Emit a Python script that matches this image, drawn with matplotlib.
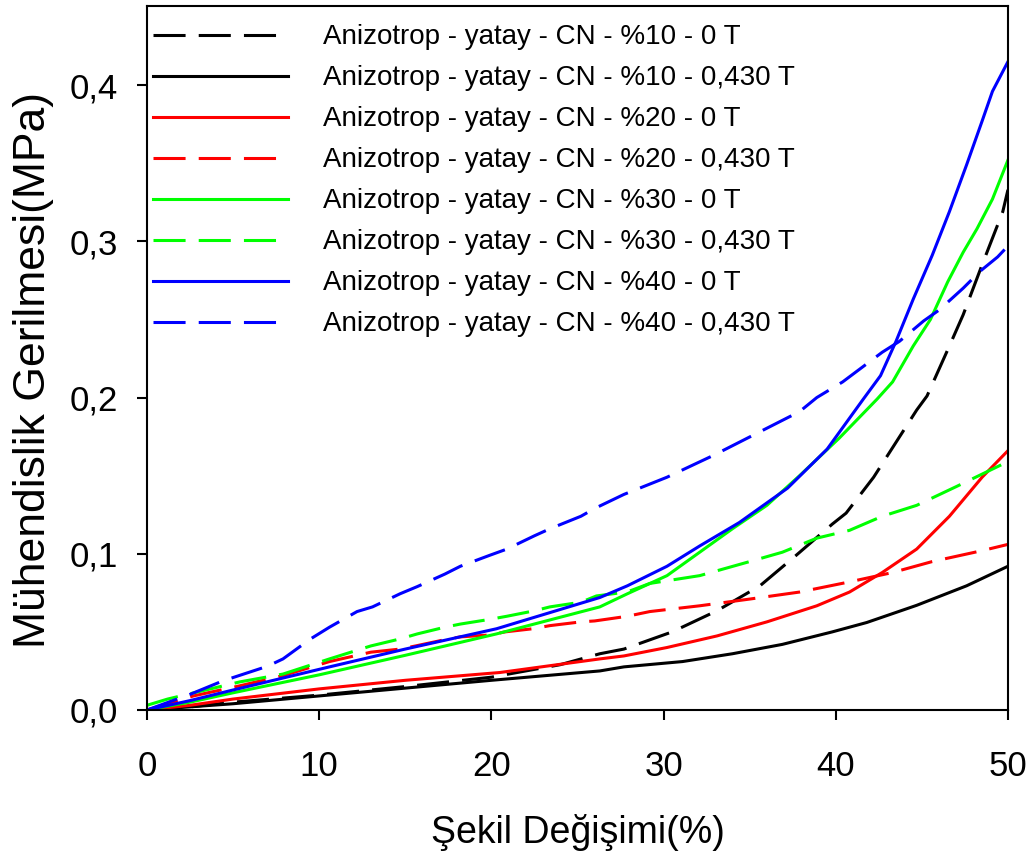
import numpy as np
import matplotlib
matplotlib.use("Agg")
import matplotlib.pyplot as plt
from matplotlib.ticker import FuncFormatter

plt.rcParams['font.family'] = ['Liberation Sans', 'DejaVu Sans']

# values (strain %, stress MPa)
x_10_0 = [0, 2.5, 5, 10, 15, 20, 24, 26.3, 27.7, 30.5, 33.1, 35.6, 37.7, 39.8, 40.6, 42.2, 44.7, 45.3, 46.6, 47.4, 48.5, 49.7, 50]
y_10_0 = [0, 0.002, 0.005, 0.0095, 0.015, 0.021, 0.029, 0.036, 0.039, 0.050, 0.0635, 0.0795, 0.099, 0.119, 0.126, 0.149, 0.192, 0.201, 0.233, 0.253, 0.285, 0.319, 0.333]

x_10_43 = [0, 2.5, 5, 10, 15, 20, 26.3, 27.7, 31.1, 34, 36.9, 39.8, 41.8, 44.7, 47.6, 50]
y_10_43 = [0, 0.002, 0.004, 0.009, 0.014, 0.019, 0.025, 0.0276, 0.031, 0.036, 0.042, 0.050, 0.056, 0.067, 0.0795, 0.092]

x_20_0 = [0, 2.5, 5, 10, 15, 20.5, 26.3, 27.7, 30.2, 33.1, 36, 38.9, 40.8, 42.7, 44.7, 46.6, 48.5, 50]
y_20_0 = [0, 0.003, 0.007, 0.0135, 0.019, 0.024, 0.0327, 0.0346, 0.040, 0.0474, 0.0564, 0.0667, 0.0755, 0.088, 0.103, 0.124, 0.149, 0.166]

x_20_43 = [0, 2.7, 5.4, 7.9, 10.6, 13, 14.7, 15.6, 17.3, 18.2, 19.9, 20.8, 22.4, 23.4, 25.2, 26, 27.9, 29.2, 32.1, 35, 37.9, 40.8, 43.3, 45.6, 48.5, 50]
y_20_43 = [0, 0.009, 0.0155, 0.022, 0.031, 0.037, 0.039, 0.041, 0.045, 0.0468, 0.048, 0.05, 0.052, 0.054, 0.0564, 0.057, 0.060, 0.063, 0.0667, 0.071, 0.0755, 0.082, 0.088, 0.095, 0.102, 0.106]

x_30_0 = [0, 2.5, 5, 10, 15, 20.3, 26.3, 27.9, 30.2, 32.1, 34, 36, 37.9, 40.2, 42.4, 43.3, 44.5, 45.5, 46.5, 47.4, 48.2, 49.1, 50]
y_30_0 = [0, 0.005, 0.011, 0.0225, 0.035, 0.0487, 0.066, 0.0744, 0.086, 0.101, 0.116, 0.131, 0.15, 0.174, 0.199, 0.21, 0.233, 0.25, 0.274, 0.293, 0.308, 0.327, 0.352]

x_30_43 = [0, 1.2, 5.4, 7.9, 10.6, 13, 14.7, 15.7, 17.3, 18.2, 19.9, 20.9, 22.5, 23.4, 25.2, 26.1, 27.9, 29.2, 32.1, 35, 36.9, 38.9, 40.8, 42.7, 44.7, 47, 48.5, 50]
y_30_43 = [0.003, 0.007, 0.018, 0.023, 0.0327, 0.041, 0.0455, 0.0487, 0.053, 0.055, 0.058, 0.060, 0.0635, 0.066, 0.069, 0.073, 0.0756, 0.081, 0.086, 0.095, 0.101, 0.11, 0.115, 0.124, 0.131, 0.143, 0.151, 0.159]

x_40_0 = [0, 2.5, 5, 10.6, 15, 20.3, 26.3, 27.9, 30.2, 32.1, 34.4, 37.2, 39.5, 41.6, 42.6, 43.5, 44.5, 45.6, 46.6, 47.6, 48.5, 49.1, 50]
y_40_0 = [0, 0.006, 0.0128, 0.0276, 0.039, 0.052, 0.072, 0.0795, 0.092, 0.105, 0.12, 0.142, 0.167, 0.199, 0.214, 0.236, 0.263, 0.291, 0.319, 0.349, 0.377, 0.396, 0.415]

x_40_43 = [0, 2.5, 4.4, 7, 7.9, 9.5, 10.6, 12.2, 13.1, 14.7, 15.7, 17.3, 18.2, 19.9, 20.9, 22.5, 23.4, 25.2, 26, 27.7, 30.2, 32.9, 35.4, 37.9, 38.9, 40.4, 42.7, 43.7, 45.1, 46, 47.4, 48.4, 49.4, 50]
y_40_43 = [0, 0.010, 0.0186, 0.028, 0.0327, 0.0455, 0.053, 0.063, 0.066, 0.0744, 0.079, 0.087, 0.092, 0.099, 0.103, 0.1115, 0.116, 0.124, 0.129, 0.138, 0.149, 0.163, 0.177, 0.191, 0.2, 0.21, 0.229, 0.236, 0.249, 0.256, 0.27, 0.281, 0.29, 0.297]

labels = ["Anizotrop - yatay - CN - %10 - 0 T",
          "Anizotrop - yatay - CN - %10 - 0,430 T",
          "Anizotrop - yatay - CN - %20 - 0 T",
          "Anizotrop - yatay - CN - %20 - 0,430 T",
          "Anizotrop - yatay - CN - %30 - 0 T",
          "Anizotrop - yatay - CN - %30 - 0,430 T",
          "Anizotrop - yatay - CN - %40 - 0 T",
          "Anizotrop - yatay - CN - %40 - 0,430 T"]

series = [(x_10_0, y_10_0, "black", True),
          (x_10_43, y_10_43, "black", False),
          (x_20_0, y_20_0, "#ff0000", False),
          (x_20_43, y_20_43, "#ff0000", True),
          (x_30_0, y_30_0, "#00ff00", False),
          (x_30_43, y_30_43, "#00ff00", True),
          (x_40_0, y_40_0, "#0000ff", False),
          (x_40_43, y_40_43, "#0000ff", True)]

fig = plt.figure(figsize=(10.32, 8.63), dpi=100)
ax = fig.add_axes([0.1424, 0.1773, 0.8343, 0.8157])

for (xs, ys, c, dashed), lab in zip(series, labels):
    line, = ax.plot(xs, ys, color=c, lw=2.2, label=lab)
    if dashed:
        line.set_dashes((10.5, 4.3))

ax.set_xlim(0, 50)
ax.set_ylim(0, 0.4506)
ax.set_xticks([0, 10, 20, 30, 40, 50])
ax.set_yticks([0, 0.1, 0.2, 0.3, 0.4])
ax.yaxis.set_major_formatter(FuncFormatter(lambda v, p: f"{v:.1f}".replace(".", ",")))
ax.tick_params(direction="out", length=7, width=1.5, labelsize=25)
ax.tick_params(axis="y", pad=14)
ax.tick_params(axis="x", pad=22)
for s in ax.spines.values():
    s.set_linewidth(1.5)

ax.set_xlabel("Şekil Değişimi(%)", fontsize=27, labelpad=22)
ax.set_ylabel("Mühendislik Gerilmesi(MPa)", fontsize=32)
ax.yaxis.set_label_coords(-0.108, 0.483)

ax.legend(loc="upper left", bbox_to_anchor=(0.007, 0.974), frameon=False,
          fontsize=20, handlelength=4.86, handletextpad=1.26,
          labelspacing=0.54, borderpad=0, borderaxespad=0)

fig.savefig("out.png", dpi=100)
